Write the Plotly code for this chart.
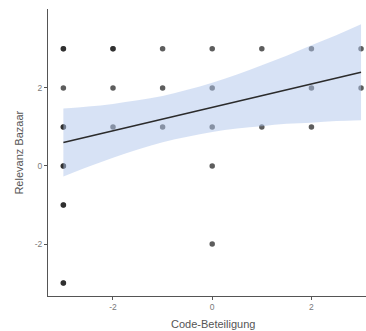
import plotly.graph_objects as go

# observed points (duplicates = overlapping observations, drawn darker)
pt_x = [-3, -3, -3, -3, -3, -3, -3, -3, -3, -3, -3,
        -2, -2, -2, -2,
        -1, -1, -1,
        0, 0, 0, 0, 0,
        1, 1,
        2, 2, 2,
        3, 3]
pt_y = [3, 3, 2, 1, 1, 0, 0, -1, -1, -3, -3,
        3, 3, 2, 1,
        3, 2, 1,
        3, 2, 1, 0, -2,
        3, 1,
        3, 2, 1,
        3, 2]

# fitted line and confidence band
fit_x = [-3, -2.5, -2, -1.5, -1, -0.5, 0, 0.5, 1, 1.5, 2, 2.5, 3]
fit_y = [0.6, 0.75, 0.9, 1.05, 1.2, 1.35, 1.5, 1.65, 1.8, 1.95, 2.1, 2.25, 2.4]
band_lo = [-0.27, -0.02, 0.21, 0.42, 0.61, 0.75, 0.87, 0.96, 1.02, 1.08, 1.11, 1.15, 1.17]
band_hi = [1.47, 1.52, 1.59, 1.68, 1.79, 1.95, 2.13, 2.34, 2.58, 2.82, 3.09, 3.35, 3.63]

x_ticks = [-2, 0, 2]
x_tick_labels = ["-2", "0", "2"]
y_ticks = [-2, 0, 2]
y_tick_labels = ["-2", "0", "2"]

fig = go.Figure()
fig.add_trace(go.Scatter(x=pt_x, y=pt_y, mode="markers",
                         marker=dict(size=5.5, color="rgba(30,30,30,0.72)", line=dict(width=0)),
                         hoverinfo="skip", showlegend=False))
fig.add_trace(go.Scatter(x=fit_x, y=band_lo, mode="lines", line=dict(width=0, shape="spline"),
                         showlegend=False, hoverinfo="skip"))
fig.add_trace(go.Scatter(x=fit_x, y=band_hi, mode="lines", line=dict(width=0, shape="spline"),
                         fill="tonexty", fillcolor="rgba(175,198,235,0.5)",
                         showlegend=False, hoverinfo="skip"))
fig.add_trace(go.Scatter(x=fit_x, y=fit_y, mode="lines", line=dict(color="#2b2b2b", width=1.6),
                         showlegend=False, hoverinfo="skip"))

axis_common = dict(showgrid=False, zeroline=False, showline=True, linecolor="#555555", linewidth=1,
                   ticks="outside", ticklen=3, tickcolor="#555555", tickwidth=1,
                   tickfont=dict(family="Liberation Sans, Arial", size=8.5, color="#7a7a7a"))
fig.update_xaxes(range=[-3.31, 3.1], tickvals=x_ticks, ticktext=x_tick_labels, **axis_common)
fig.update_yaxes(range=[-3.33, 4.02], tickvals=y_ticks, ticktext=y_tick_labels, **axis_common)

fig.update_layout(
    width=366, height=331,
    margin=dict(l=48, r=0, t=9, b=35),
    plot_bgcolor="white", paper_bgcolor="white",
    font=dict(family="Liberation Sans, Arial"),
    annotations=[
        dict(text="Code-Beteiligung", xref="paper", yref="paper", x=0.52, y=-0.097,
             xanchor="center", yanchor="middle", showarrow=False,
             font=dict(size=11, color="#555555")),
        dict(text="Relevanz Bazaar", xref="paper", yref="paper", x=-0.094, y=0.5,
             xanchor="center", yanchor="middle", showarrow=False, textangle=-90,
             font=dict(size=11, color="#555555")),
    ],
)

fig.write_html("out.html")
